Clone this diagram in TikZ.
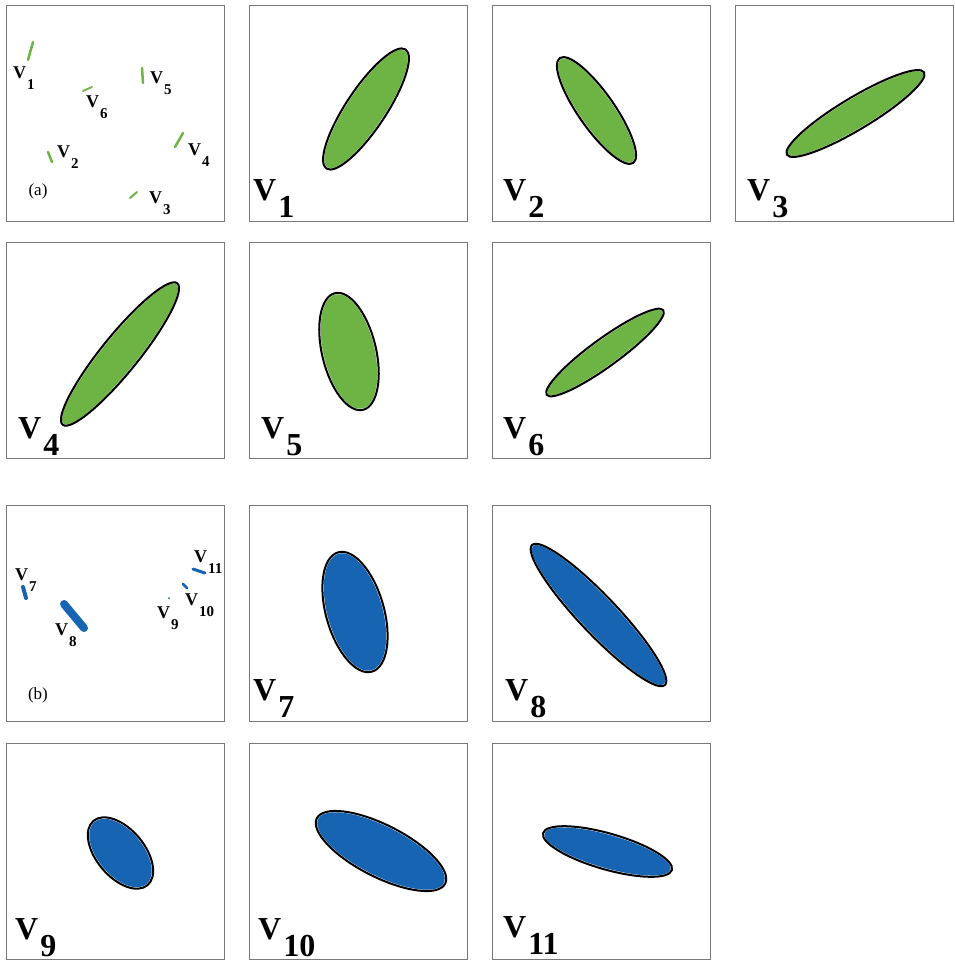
\documentclass[tikz,border=0pt]{standalone}
\usepackage{fontspec}
\setmainfont{Liberation Serif}
\definecolor{leaf}{RGB}{110,180,68}
\definecolor{sea}{RGB}{22,100,178}
\definecolor{framegray}{RGB}{120,120,120}
\newcommand\myblob[6]{%
  \fill[#1,rotate around={#6:(#2,#3)}] (#2,#3) ellipse [x radius=#4-1.5, y radius=#5-1.5];
  \draw[outline,rotate around={#6:(#2,#3)}] (#2,#3) ellipse [x radius=#4, y radius=#5];}
\newcommand\mybig[1]{V\kern2pt\raisebox{-17pt}{#1}}
\newcommand\mysmall[1]{V\kern1pt\raisebox{-11pt}{\fontsize{15}{15}\selectfont #1}}
\begin{document}
\begin{tikzpicture}[x=1pt,y=-1pt,
  frame/.style={draw=framegray,line width=1pt},
  outline/.style={draw=black,line width=2pt},
  biglab/.style={inner sep=0pt,anchor=base west,font=\fontsize{32}{32}\selectfont\bfseries},
  smalllab/.style={inner sep=0pt,anchor=base west,font=\fontsize{18}{18}\selectfont\bfseries},
  tag/.style={inner sep=0pt,font=\fontsize{17}{17}\selectfont},
  tick/.style={line width=2.5pt,line cap=round}]
\useasboundingbox (0,0) rectangle (954,962);
\fill[white] (0,0) rectangle (954,962);
% frames
\foreach \x in {6,249,492,735} \draw[frame] (\x,5) rectangle ++(218,216);
\foreach \x in {6,249,492} \draw[frame] (\x,242) rectangle ++(218,216);
\foreach \x in {6,249,492} \draw[frame] (\x,505) rectangle ++(218,216);
\foreach \x in {6,249,492} \draw[frame] (\x,743) rectangle ++(218,216);
% overview (a)
\draw[tick,leaf] (28,60) -- (33,42);
\draw[tick,leaf] (142,68) -- (143,83);
\draw[tick,leaf,line width=1.8pt] (83,91) -- (92,87);
\draw[tick,leaf] (48,152) -- (52,162);
\draw[tick,leaf] (175,147) -- (183,133);
\draw[tick,leaf,line width=2pt] (130,198) -- (137,192);
\node[smalllab] (a1) at (13,78) {\mysmall{1}};
\node[smalllab] (a5) at (150,83) {\mysmall{5}};
\node[smalllab] (a6) at (86,107) {\mysmall{6}};
\node[smalllab] (a2) at (57,157) {\mysmall{2}};
\node[smalllab] (a4) at (188,155) {\mysmall{4}};
\node[smalllab] (a3) at (149,203) {\mysmall{3}};
\node[tag] (ta) at (38,191) {(a)};
% overview (b)
\draw[tick,sea,line width=4pt] (23,587) -- (26,598);
\draw[tick,sea,line width=8pt] (64,604) -- (84,628);
\draw[tick,sea,line width=3pt] (193,569) -- (205,573);
\draw[tick,sea,line width=2.5pt] (183,584) -- (187,588);
\fill[sea] (169,598) circle (1pt);
\node[smalllab] (b7) at (15,580) {\mysmall{7}};
\node[smalllab] (b8) at (55,635) {\mysmall{8}};
\node[smalllab] (b9) at (157,618) {\mysmall{9}};
\node[smalllab] (b10) at (185,605) {\mysmall{10}};
\node[smalllab] (b11) at (194,562) {\mysmall{11}};
\node[tag] (tb) at (38,695) {(b)};
% ellipses
\myblob{leaf}{366}{109}{71.5}{20}{56.4}
\myblob{leaf}{596.5}{110.5}{64}{18}{-55}
\myblob{leaf}{855.5}{113.5}{80}{16}{31}
\myblob{leaf}{120}{354}{91}{18.5}{51}
\myblob{leaf}{349}{351.5}{60}{27}{103.5}
\myblob{leaf}{605}{352.5}{72}{14}{36}
\myblob{sea}{355}{612}{62}{29}{105.8}
\myblob{sea}{598.5}{615}{96.5}{19}{-46.5}
\myblob{sea}{120.5}{853}{42}{24}{-50}
\myblob{sea}{381}{851}{72}{26}{-27}
\myblob{sea}{607.5}{851.5}{67}{18}{-16}
% big labels
\node[biglab] (l1) at (253,200) {\mybig{1}};
\node[biglab] (l2) at (503,200) {\mybig{2}};
\node[biglab] (l3) at (747,200) {\mybig{3}};
\node[biglab] (l4) at (18,438) {\mybig{4}};
\node[biglab] (l5) at (261,438) {\mybig{5}};
\node[biglab] (l6) at (503,438) {\mybig{6}};
\node[biglab] (l7) at (253,700) {\mybig{7}};
\node[biglab] (l8) at (505,700) {\mybig{8}};
\node[biglab] (l9) at (15,939) {\mybig{9}};
\node[biglab] (l10) at (258,939) {\mybig{10}};
\node[biglab] (l11) at (503,937) {\mybig{11}};
\end{tikzpicture}
\end{document}
